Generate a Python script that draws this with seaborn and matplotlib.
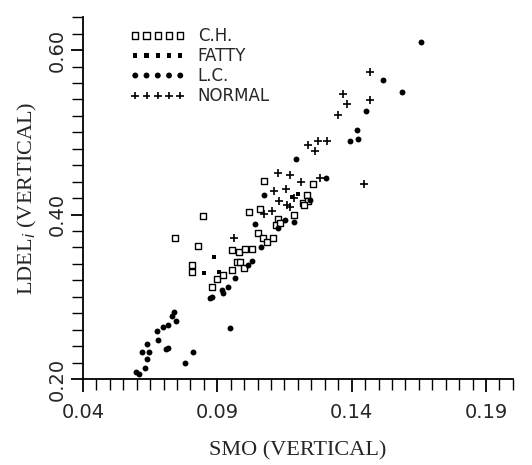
import numpy as np
import pandas as pd
import seaborn as sns
import matplotlib.pyplot as plt
from matplotlib.ticker import FixedLocator, FormatStrFormatter

# values
ch_x = [0.0743, 0.0846, 0.0827, 0.0805, 0.0805, 0.0882, 0.0898, 0.0922, 0.0953, 0.0953,
        0.0981, 0.1003, 0.1030, 0.0972, 0.0984, 0.1000, 0.1018, 0.1050, 0.1071, 0.1086,
        0.1108, 0.1059, 0.1075, 0.1127, 0.1117, 0.1133, 0.1186, 0.1232, 0.1257, 0.1220,
        0.1236, 0.1223]
ch_y = [0.372, 0.398, 0.362, 0.339, 0.330, 0.312, 0.322, 0.326, 0.333, 0.357,
        0.355, 0.358, 0.358, 0.342, 0.342, 0.335, 0.403, 0.378, 0.371, 0.366,
        0.372, 0.407, 0.441, 0.395, 0.387, 0.390, 0.399, 0.424, 0.437, 0.414,
        0.417, 0.412]

fatty_x = [0.0852, 0.0906, 0.1178, 0.0888, 0.1200]
fatty_y = [0.329, 0.330, 0.421, 0.348, 0.425]

lc_x = [0.1657, 0.1517, 0.1587, 0.1452, 0.1421, 0.1392, 0.1424, 0.1192, 0.1306, 0.1244,
        0.1075, 0.1040, 0.1151, 0.1186, 0.1124, 0.1062, 0.1030, 0.1015, 0.0966, 0.0941,
        0.0919, 0.0922, 0.0879, 0.0873, 0.0947, 0.0811, 0.0778, 0.0737, 0.0733, 0.0746,
        0.0718, 0.0696, 0.0677, 0.0681, 0.0716, 0.0709, 0.0638, 0.0619, 0.0644, 0.0638,
        0.0630, 0.0597, 0.0607]
lc_y = [0.610, 0.564, 0.549, 0.526, 0.503, 0.489, 0.492, 0.468, 0.444, 0.418,
        0.424, 0.389, 0.393, 0.391, 0.384, 0.360, 0.344, 0.339, 0.323, 0.312,
        0.308, 0.305, 0.300, 0.298, 0.262, 0.233, 0.220, 0.282, 0.277, 0.271,
        0.266, 0.263, 0.258, 0.248, 0.238, 0.236, 0.243, 0.233, 0.233, 0.224,
        0.213, 0.209, 0.206]

normal_x = [0.1467, 0.1368, 0.1384, 0.1470, 0.1349, 0.1238, 0.1273, 0.1310, 0.1263, 0.1446,
            0.1124, 0.1170, 0.1211, 0.1112, 0.1154, 0.1129, 0.1186, 0.1158, 0.1102, 0.1075,
            0.1282, 0.0963, 0.1170]
normal_y = [0.573, 0.547, 0.534, 0.539, 0.521, 0.485, 0.489, 0.490, 0.477, 0.437,
            0.450, 0.448, 0.439, 0.429, 0.431, 0.417, 0.420, 0.412, 0.404, 0.401,
            0.445, 0.371, 0.409]

groups = [
    ("C.H.", ch_x, ch_y, dict(marker="s", s=20, facecolor="white", edgecolor="black", linewidth=1.0)),
    ("FATTY", fatty_x, fatty_y, dict(marker="s", s=9, color="black", linewidth=0)),
    ("L.C.", lc_x, lc_y, dict(marker="o", s=18, color="black", linewidth=0)),
    ("NORMAL", normal_x, normal_y, dict(marker="+", s=32, color="black", linewidth=1.2)),
]

sns.set_theme(style="ticks")
plt.rcParams['font.family'] = ['DejaVu Sans']

fig = plt.figure(figsize=(5.32, 4.65), dpi=100)
ax = fig.add_axes([0.156, 0.185, 0.808, 0.778])

for name, xs, ys, kw in groups:
    df = pd.DataFrame({"SMO": xs, "LDEL": ys})
    sns.scatterplot(data=df, x="SMO", y="LDEL", ax=ax, label=name, **kw)

ax.set_xlim(0.04, 0.20)
ax.set_ylim(0.20, 0.64)
sns.despine(ax=ax)
for sp in ax.spines.values():
    sp.set_linewidth(1.3)
    sp.set_color("black")

ax.xaxis.set_major_locator(FixedLocator([0.04, 0.09, 0.14, 0.19]))
ax.xaxis.set_minor_locator(FixedLocator(np.arange(0.04, 0.2001, 0.005)))
ax.yaxis.set_major_locator(FixedLocator([0.20, 0.40, 0.60]))
ax.yaxis.set_minor_locator(FixedLocator(np.arange(0.20, 0.6401, 0.02)))
ax.xaxis.set_major_formatter(FormatStrFormatter("%.2f"))
ax.yaxis.set_major_formatter(FormatStrFormatter("%.2f"))
ax.tick_params(which="major", length=9, width=1.3, color="black", labelsize=14, pad=8)
ax.tick_params(which="minor", length=8, width=1.0, color="black")
ax.tick_params(axis="y", which="major", labelrotation=90, pad=3)
for t in ax.get_yticklabels():
    t.set_va("center")

ax.set_xlabel("SMO (VERTICAL)", family="Liberation Serif", fontsize=16, labelpad=14)
ax.set_ylabel("LDEL$_i$ (VERTICAL)", family="Liberation Serif", fontsize=16, labelpad=6)

ax.legend(loc="upper left", bbox_to_anchor=(0.11, 0.972), frameon=False,
          scatterpoints=5, scatteryoffsets=[0.5], handlelength=3.3, handletextpad=0.75,
          labelspacing=0.12, borderpad=0, borderaxespad=0, fontsize=12)

fig.savefig("out.png", dpi=100)
